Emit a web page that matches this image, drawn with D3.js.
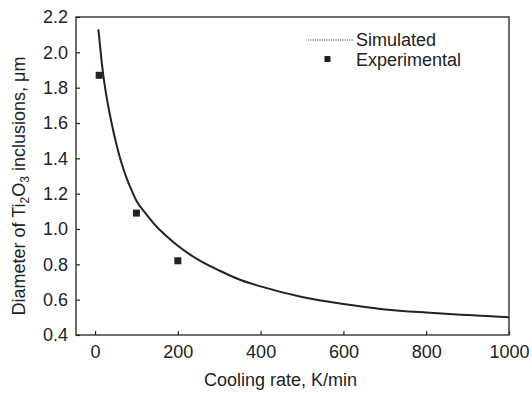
<!DOCTYPE html>
<html>
<head>
<meta charset="utf-8">
<script src="https://cdn.jsdelivr.net/npm/d3@7"></script>
<style>
  html, body { margin: 0; padding: 0; background: #fff; }
  svg { display: block; }
  text { font-family: "Liberation Sans", Arial, sans-serif; fill: #222; }
</style>
</head>
<body>
<svg id="chart" width="532" height="393"></svg>
<script>
// Simulated curve
const simX = [8, 15, 20, 30, 40, 50, 60, 70, 80, 90, 100, 125, 150, 175, 200, 250, 300, 350, 400, 500, 600, 700, 800, 900, 1000];
const simY = [2.13, 1.97, 1.87, 1.72, 1.60, 1.495, 1.405, 1.33, 1.265, 1.21, 1.16, 1.08, 1.01, 0.955, 0.905, 0.825, 0.765, 0.713, 0.675, 0.615, 0.575, 0.545, 0.527, 0.513, 0.50];
// Experimental points
const expX = [10, 100, 200];
const expY = [1.87, 1.09, 0.82];
const xTicks = [0, 200, 400, 600, 800, 1000];
const yTicks = [0.4, 0.6, 0.8, 1.0, 1.2, 1.4, 1.6, 1.8, 2.0, 2.2];

const svg = d3.select("#chart");
const L = 76, T = 17, R = 509, B = 335;
const x = d3.scaleLinear().domain([-46, 1000]).range([L, R]);
const y = d3.scaleLinear().domain([0.4, 2.2]).range([B, T]);
const ink = "#222";
const ff = '"Liberation Sans", Arial, sans-serif';
const fs = 18;

// frame
svg.append("rect").attr("x", L).attr("y", T).attr("width", R - L).attr("height", B - T)
  .attr("fill", "none").attr("stroke", ink).attr("stroke-width", 1.3);

// axes
const xAxis = d3.axisBottom(x).tickValues(xTicks).tickSizeInner(-4).tickSizeOuter(0).tickPadding(10).tickFormat(d3.format("d"));
const gx = svg.append("g").attr("transform", `translate(0,${B})`).call(xAxis);
gx.select(".domain").remove();
gx.selectAll("line").attr("stroke", ink).attr("stroke-width", 1.2);
gx.selectAll("text").attr("font-size", fs).attr("fill", ink).style("font-family", ff);

const yAxis = d3.axisLeft(y).tickValues(yTicks).tickSizeInner(-4).tickSizeOuter(0).tickPadding(8).tickFormat(d3.format(".1f"));
const gy = svg.append("g").attr("transform", `translate(${L},0)`).call(yAxis);
gy.select(".domain").remove();
gy.selectAll("line").attr("stroke", ink).attr("stroke-width", 1.2);
gy.selectAll("text").attr("font-size", fs).attr("fill", ink).style("font-family", ff);

// simulated curve
const simData = simX.map((d, i) => [d, simY[i]]);
svg.append("path").datum(simData)
  .attr("fill", "none").attr("stroke", ink).attr("stroke-width", 2)
  .attr("d", d3.line().x(d => x(d[0])).y(d => y(d[1])).curve(d3.curveMonotoneX));

// experimental points
const ms = 7;
svg.selectAll("rect.exp").data(expX.map((d, i) => [d, expY[i]])).enter()
  .append("rect").attr("class", "exp")
  .attr("x", d => x(d[0]) - ms / 2).attr("y", d => y(d[1]) - ms / 2)
  .attr("width", ms).attr("height", ms).attr("fill", ink);

// legend
svg.append("line").attr("x1", 308).attr("x2", 354).attr("y1", 40).attr("y2", 40)
  .attr("stroke", ink).attr("stroke-width", 1).attr("stroke-dasharray", "1,1.3");
svg.append("text").attr("x", 356).attr("y", 45.5).attr("font-size", fs).text("Simulated");
svg.append("rect").attr("x", 324.5).attr("y", 56).attr("width", 6).attr("height", 6).attr("fill", ink);
svg.append("text").attr("x", 356).attr("y", 65.5).attr("font-size", fs).text("Experimental");

// axis titles
svg.append("text").attr("x", 280.5).attr("y", 386).attr("text-anchor", "middle").attr("font-size", fs)
  .text("Cooling rate, K/min");

const yt = svg.append("text").attr("transform", "translate(25,186) rotate(-90)")
  .attr("text-anchor", "middle").attr("font-size", fs);
yt.append("tspan").text("Diameter of Ti");
yt.append("tspan").attr("font-size", 12).attr("dy", 4).text("2");
yt.append("tspan").attr("dy", -4).text("O");
yt.append("tspan").attr("font-size", 12).attr("dy", 4).text("3");
yt.append("tspan").attr("dy", -4).text(" inclusions, μm");
</script>
</body>
</html>
